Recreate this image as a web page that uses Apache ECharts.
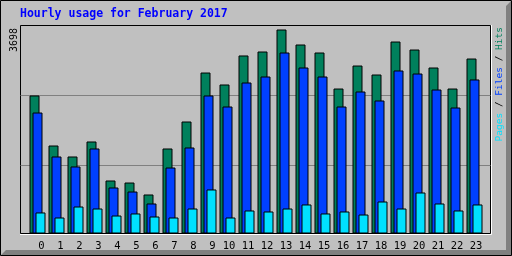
<!DOCTYPE html>
<html>
<head>
<meta charset="utf-8">
<script src="https://cdn.jsdelivr.net/npm/echarts@6.0.0/dist/echarts.min.js"></script>
<style>html,body{margin:0;padding:0;background:#C0C0C0}#c{width:512px;height:256px}</style>
</head>
<body>
<div id="c"></div>
<script>
var titleText = 'Hourly usage for February 2017';
var hours = ['0','1','2','3','4','5','6','7','8','9','10','11','12','13','14','15','16','17','18','19','20','21','22','23'];
var hits  = [2502,1595,1396,1668,961,924,707,1541,2030,2918,2701,3227,3299,3698,3426,3281,2628,3045,2882,3480,3335,3009,2628,3172];
var files = [2193,1396,1215,1541,834,761,544,1196,1559,2502,2302,2737,2846,3281,3009,2846,2302,2574,2411,2955,2900,2610,2284,2792];
var pages = [381,290,489,453,326,363,308,290,453,798,290,417,399,453,526,363,399,344,580,453,743,544,417,526];
var gridVals = [1233, 2500];
var legendParts = ['Pages', 'Files', 'Hits'];

var maxHits = Math.max.apply(null, hits);
var M = maxHits * 208 / 204;
var mono = 'DejaVu Sans Mono';

var chart = echarts.init(document.getElementById('c'), null, {renderer: 'canvas'});
chart.setOption({
  animation: false,
  backgroundColor: '#C0C0C0',
  title: {
    text: titleText, left: 20, top: 8, padding: 0,
    textStyle: {fontFamily: mono, fontWeight: 'bold', fontSize: 11.5, color: '#0000FF'}
  },
  grid: [
    {left: 20.5, top: 25.5, width: 470, height: 208, show: true, borderColor: '#000', borderWidth: 1, backgroundColor: 'transparent'},
    {left: 28, top: 25.5, width: 456, height: 208}
  ],
  xAxis: [
    {gridIndex: 0, type: 'value', min: 0, max: 1, show: false},
    {gridIndex: 1, type: 'category', data: hours,
     axisLine: {show: false}, axisTick: {show: false},
     axisLabel: {
       interval: 0, hideOverlap: false,
       margin: 7, color: '#000', fontFamily: mono, fontSize: 10.5,
       formatter: function (v) { return v.length === 1 ? '{one|' + v + '}' : '{two|' + v + '}'; },
       rich: {
         one: {padding: [0, 0, 0, 8], fontFamily: mono, fontSize: 10.5, color: '#000'},
         two: {padding: [0, 0, 0, 3], fontFamily: mono, fontSize: 10.5, color: '#000'}
       }
     }}
  ],
  yAxis: [
    {gridIndex: 0, type: 'value', min: 0, max: M, show: false},
    {gridIndex: 1, type: 'value', min: 0, max: M, show: false}
  ],
  series: [
    {type: 'line', xAxisIndex: 0, yAxisIndex: 0, data: [], silent: true,
     markLine: {silent: true, z: 1, symbol: ['none', 'none'], label: {show: false},
       lineStyle: {color: '#808080', width: 1, type: 'solid'},
       data: gridVals.map(function (v) { return {yAxis: v}; })}},
    {name: 'Hits', type: 'bar', xAxisIndex: 1, yAxisIndex: 1, data: hits, barWidth: 10, barGap: '-70%',
     itemStyle: {color: '#00805C', borderColor: '#000', borderWidth: 1}},
    {name: 'Files', type: 'bar', xAxisIndex: 1, yAxisIndex: 1, data: files, barWidth: 10, barGap: '-70%',
     itemStyle: {color: '#0040FF', borderColor: '#000', borderWidth: 1}},
    {name: 'Pages', type: 'bar', xAxisIndex: 1, yAxisIndex: 1, data: pages, barWidth: 10, barGap: '-70%',
     itemStyle: {color: '#00E0FF', borderColor: '#000', borderWidth: 1}}
  ],
  graphic: [
    {type: 'polygon', silent: true, z: 100,
     shape: {points: [[1, 255], [6, 250], [506, 250], [506, 6], [511, 1], [511, 255]]},
     style: {fill: '#808080'}},
    {type: 'rect', silent: true, z: 101, shape: {x: 0.5, y: 0.5, width: 511, height: 255},
     style: {fill: 'none', stroke: '#000', lineWidth: 1}},
    {type: 'polyline', silent: true, z: 101, shape: {points: [[20, 234.5], [491.5, 234.5], [491.5, 25]]},
     style: {fill: 'none', stroke: '#FFFFFF', lineWidth: 1}},
    {type: 'text', silent: true, z: 101, x: 14.5, y: 28, rotation: Math.PI / 2,
     style: {text: String(maxHits), align: 'right', verticalAlign: 'middle', fill: '#000',
             font: '10px "DejaVu Sans Mono"'}},
    {type: 'text', silent: true, z: 101, x: 499.5, y: 27, rotation: Math.PI / 2,
     style: {
       text: '{p|' + legendParts[0] + '}{s| / }{f|' + legendParts[1] + '}{s| / }{h|' + legendParts[2] + '}',
       align: 'right', verticalAlign: 'middle', font: '9.5px "DejaVu Sans Mono"',
       rich: {
         p: {fill: '#00E0FF', font: '9.5px "DejaVu Sans Mono"'},
         s: {fill: '#000000', font: '9.5px "DejaVu Sans Mono"'},
         f: {fill: '#0040FF', font: '9.5px "DejaVu Sans Mono"'},
         h: {fill: '#00805C', font: '9.5px "DejaVu Sans Mono"'}
       }
     }}
  ]
});
</script>
</body>
</html>
